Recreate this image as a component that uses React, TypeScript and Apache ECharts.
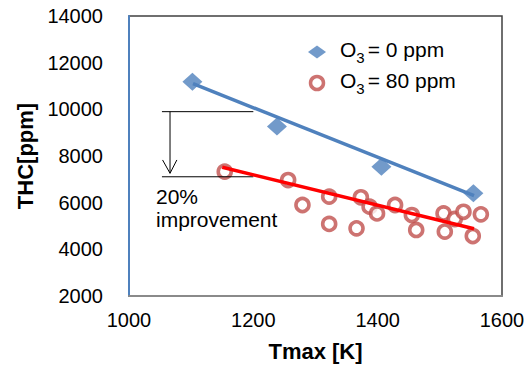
import { useEffect, useRef } from 'react';
import * as echarts from 'echarts';

// Axis ticks
const xTicks = [1000, 1200, 1400, 1600];
const yTicks = [2000, 4000, 6000, 8000, 10000, 12000, 14000];

// O3 = 0 ppm
const zeroTmax = [1102, 1238, 1406, 1554];
const zeroTHC = [11180, 9260, 7540, 6400];

// O3 = 80 ppm
const eightyTmax = [1154, 1256, 1279, 1322, 1322, 1366, 1373, 1387, 1399, 1428, 1455, 1462, 1506, 1508, 1524, 1538, 1553, 1566];
const eightyTHC = [7330, 6970, 5900, 6260, 5090, 4900, 6230, 5830, 5540, 5900, 5470, 4830, 5540, 4760, 5300, 5610, 4570, 5500];

// Trend lines (end points)
const zeroFitT = [1103, 1555];
const zeroFitTHC = [11100, 6300];
const eightyFitT = [1150, 1555];
const eightyFitTHC = [7520, 4880];

// Annotation: 20% improvement bracket
const upperRefT = [1053, 1200];
const upperRefTHC = [9900, 9900];
const lowerRefT = [1053, 1200];
const lowerRefTHC = [7110, 7110];
const arrowShaftT = [1066, 1066];
const arrowShaftTHC = [9900, 7260];
const arrowHeadT = [1054, 1066, 1077];
const arrowHeadTHC = [7830, 7260, 7830];

const seriesNames = ['O3 = 0 ppm', 'O3 = 80 ppm'];
const legendRich: Record<string, string> = {
  'O3 = 0 ppm': '{a|O}{s|3}{a|= 0 ppm}',
  'O3 = 80 ppm': '{a|O}{s|3}{a|= 80 ppm}',
};

const FONT = '"Liberation Sans", Arial, sans-serif';

const zip = (xs: number[], ys: number[]) => xs.map((x, i) => [x, ys[i]]);

export default function App() {
  const ref = useRef<HTMLDivElement>(null);
  useEffect(() => {
    if (!ref.current) return;
    const chart = echarts.init(ref.current, undefined, { renderer: 'svg' });
    const blackLine = (name: string, xs: number[], ys: number[]) => ({
      name,
      type: 'line',
      data: zip(xs, ys),
      symbol: 'none',
      silent: true,
      z: 4,
      lineStyle: { color: '#000', width: 1 },
    });
    chart.setOption({
      animation: false,
      backgroundColor: '#fff',
      textStyle: { fontFamily: FONT },
      grid: {
        left: 129,
        top: 16,
        right: 26,
        bottom: 71,
        show: true,
        borderColor: '#404040',
        borderWidth: 1.5,
        backgroundColor: 'transparent',
      },
      xAxis: {
        type: 'value',
        min: xTicks[0],
        max: xTicks[xTicks.length - 1],
        interval: xTicks[1] - xTicks[0],
        name: 'Tmax [K]',
        nameLocation: 'middle',
        nameGap: 44,
        nameTextStyle: { fontFamily: FONT, fontSize: 22, fontWeight: 'bold', color: '#000' },
        axisLine: { show: true, lineStyle: { color: '#8A8A8A', width: 2 } },
        axisTick: { show: false },
        splitLine: { show: false },
        axisLabel: { fontFamily: FONT, fontSize: 20, color: '#000', margin: 14, formatter: (v: number) => String(v) },
      },
      yAxis: {
        type: 'value',
        min: yTicks[0],
        max: yTicks[yTicks.length - 1],
        interval: yTicks[1] - yTicks[0],
        name: 'THC[ppm]',
        nameLocation: 'middle',
        nameGap: 91,
        nameRotate: 90,
        nameTextStyle: { fontFamily: FONT, fontSize: 22, fontWeight: 'bold', color: '#000' },
        axisLine: { show: true, lineStyle: { color: '#4F81BD', width: 2 } },
        axisTick: { show: false },
        splitLine: { show: false },
        axisLabel: { fontFamily: FONT, fontSize: 20, color: '#000', margin: 26, formatter: (v: number) => String(v) },
      },
      legend: {
        data: [
          { name: seriesNames[0] },
          { name: seriesNames[1], itemStyle: { color: '#fff', borderColor: '#C0504D', borderWidth: 3.5 } },
        ],
        orient: 'vertical',
        left: 303,
        top: 34,
        itemWidth: 18,
        itemHeight: 13,
        itemGap: 5,
        formatter: (name: string) => legendRich[name] ?? name,
        textStyle: {
          padding: [0, 0, 0, 9],
          rich: {
            a: { fontFamily: FONT, fontSize: 21, color: '#000', lineHeight: 26, verticalAlign: 'top' },
            s: { fontFamily: FONT, fontSize: 15, color: '#000', lineHeight: 12, verticalAlign: 'bottom', padding: [0, 3, 0, 0] },
          },
        },
      },
      graphic: [
        {
          type: 'text',
          left: 156,
          top: 186,
          style: { text: '20%', fontFamily: FONT, fontSize: 21, fill: '#000' },
        },
        {
          type: 'text',
          left: 156,
          top: 209,
          style: { text: 'improvement', fontFamily: FONT, fontSize: 21, fill: '#000' },
        },
      ],
      series: [
        {
          name: seriesNames[0],
          type: 'scatter',
          data: zip(zeroTmax, zeroTHC),
          symbol: 'diamond',
          symbolSize: [20, 18],
          itemStyle: { color: '#4F81BD' },
          z: 3,
        },
        {
          name: seriesNames[1],
          type: 'scatter',
          data: zip(eightyTmax, eightyTHC),
          symbol: 'circle',
          symbolSize: 13,
          itemStyle: { color: '#fff', borderColor: '#C0504D', borderWidth: 3.6 },
          z: 3,
        },
        {
          name: 'fit0',
          type: 'line',
          data: zip(zeroFitT, zeroFitTHC),
          symbol: 'none',
          silent: true,
          z: 5,
          lineStyle: { color: '#4F81BD', width: 3.5 },
        },
        {
          name: 'fit80',
          type: 'line',
          data: zip(eightyFitT, eightyFitTHC),
          symbol: 'none',
          silent: true,
          z: 5,
          lineStyle: { color: '#FF0000', width: 3.5 },
        },
        blackLine('upper', upperRefT, upperRefTHC),
        blackLine('lower', lowerRefT, lowerRefTHC),
        blackLine('shaft', arrowShaftT, arrowShaftTHC),
        blackLine('head', arrowHeadT, arrowHeadTHC),
      ],
    });
    return () => chart.dispose();
  }, []);
  return <div ref={ref} style={{ width: 528, height: 367, position: 'absolute', left: 0, top: 0 }} />;
}
